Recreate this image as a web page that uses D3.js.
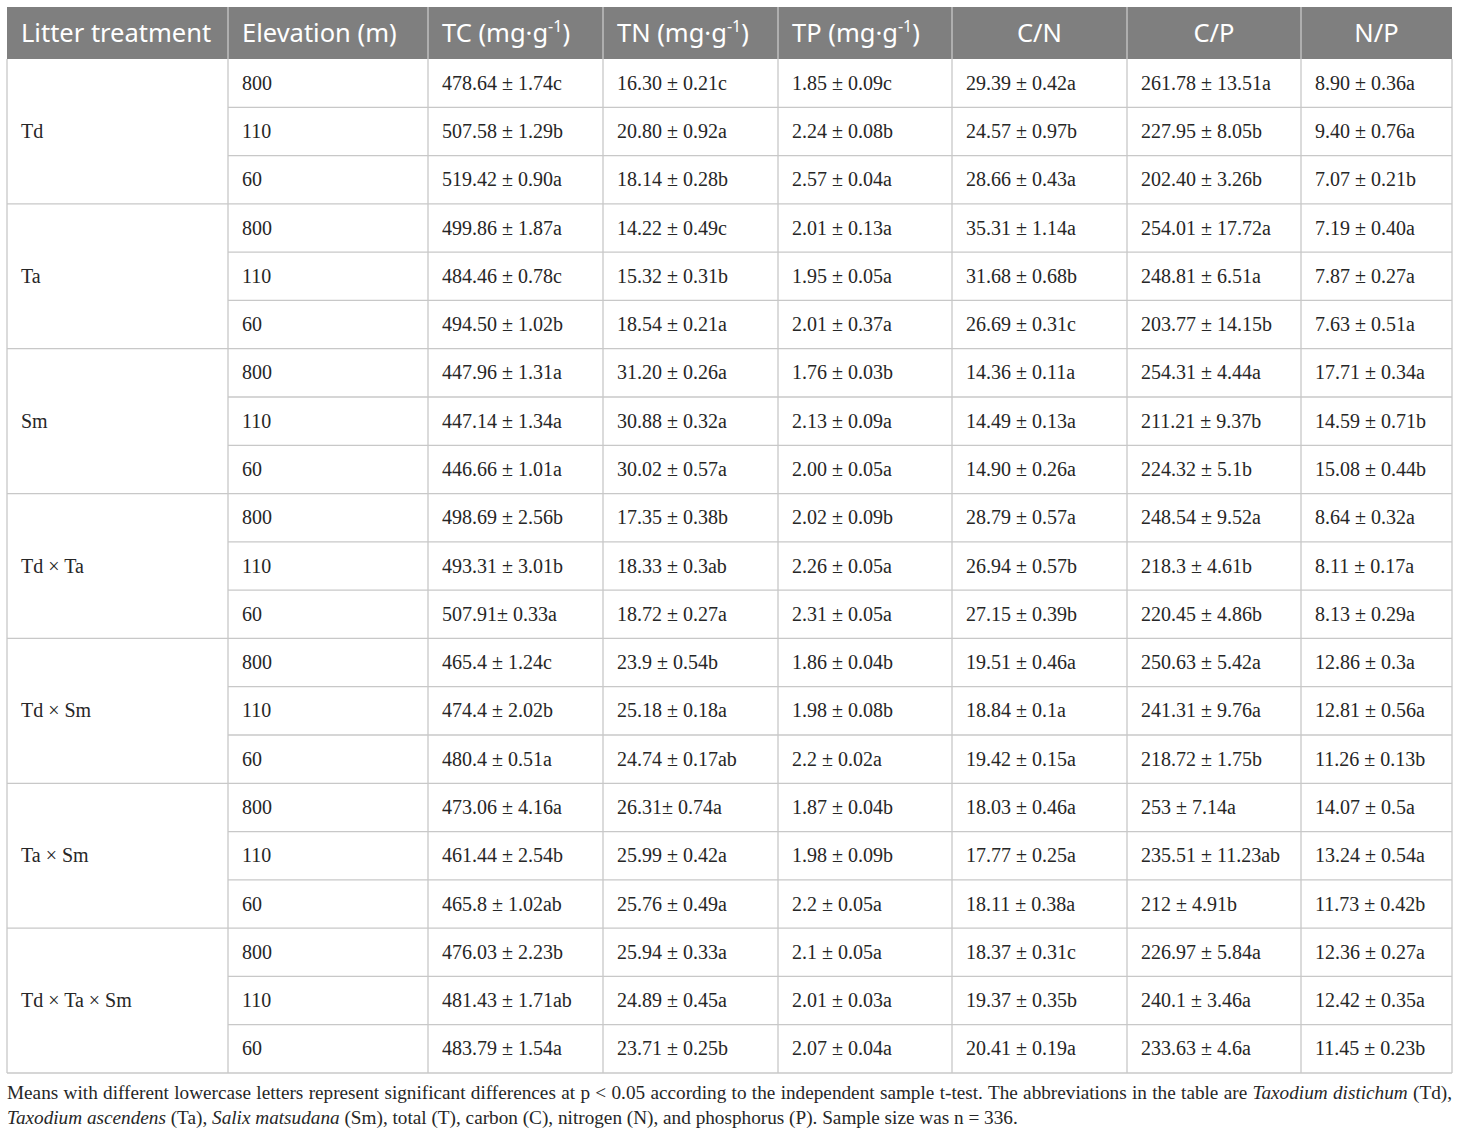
<html>
<head>
<meta charset="utf-8">
<script src="https://cdn.jsdelivr.net/npm/d3@7"></script>
<style>
  body { margin: 0; background: #fff; }
  svg text { font-kerning: normal; }
</style>
</head>
<body>
<svg id="tbl" width="1460" height="1135"></svg>
<script>
// ---- data ----
var treatments = ["Td", "Ta", "Sm", "Td × Ta", "Td × Sm", "Ta × Sm", "Td × Ta × Sm"];
var elevations = ["800", "110", "60"];

var headBase = ["Litter treatment", "Elevation (m)", "TC (mg·g", "TN (mg·g", "TP (mg·g", "C/N", "C/P", "N/P"];
var headSup  = ["", "", "-1", "-1", "-1", "", "", ""];
var headTail = ["", "", ")", ")", ")", "", "", ""];

var tc = ["478.64 ± 1.74c", "507.58 ± 1.29b", "519.42 ± 0.90a",
          "499.86 ± 1.87a", "484.46 ± 0.78c", "494.50 ± 1.02b",
          "447.96 ± 1.31a", "447.14 ± 1.34a", "446.66 ± 1.01a",
          "498.69 ± 2.56b", "493.31 ± 3.01b", "507.91± 0.33a",
          "465.4 ± 1.24c", "474.4 ± 2.02b", "480.4 ± 0.51a",
          "473.06 ± 4.16a", "461.44 ± 2.54b", "465.8 ± 1.02ab",
          "476.03 ± 2.23b", "481.43 ± 1.71ab", "483.79 ± 1.54a"];
var tn = ["16.30 ± 0.21c", "20.80 ± 0.92a", "18.14 ± 0.28b",
          "14.22 ± 0.49c", "15.32 ± 0.31b", "18.54 ± 0.21a",
          "31.20 ± 0.26a", "30.88 ± 0.32a", "30.02 ± 0.57a",
          "17.35 ± 0.38b", "18.33 ± 0.3ab", "18.72 ± 0.27a",
          "23.9 ± 0.54b", "25.18 ± 0.18a", "24.74 ± 0.17ab",
          "26.31± 0.74a", "25.99 ± 0.42a", "25.76 ± 0.49a",
          "25.94 ± 0.33a", "24.89 ± 0.45a", "23.71 ± 0.25b"];
var tp = ["1.85 ± 0.09c", "2.24 ± 0.08b", "2.57 ± 0.04a",
          "2.01 ± 0.13a", "1.95 ± 0.05a", "2.01 ± 0.37a",
          "1.76 ± 0.03b", "2.13 ± 0.09a", "2.00 ± 0.05a",
          "2.02 ± 0.09b", "2.26 ± 0.05a", "2.31 ± 0.05a",
          "1.86 ± 0.04b", "1.98 ± 0.08b", "2.2 ± 0.02a",
          "1.87 ± 0.04b", "1.98 ± 0.09b", "2.2 ± 0.05a",
          "2.1 ± 0.05a", "2.01 ± 0.03a", "2.07 ± 0.04a"];
var cn = ["29.39 ± 0.42a", "24.57 ± 0.97b", "28.66 ± 0.43a",
          "35.31 ± 1.14a", "31.68 ± 0.68b", "26.69 ± 0.31c",
          "14.36 ± 0.11a", "14.49 ± 0.13a", "14.90 ± 0.26a",
          "28.79 ± 0.57a", "26.94 ± 0.57b", "27.15 ± 0.39b",
          "19.51 ± 0.46a", "18.84 ± 0.1a", "19.42 ± 0.15a",
          "18.03 ± 0.46a", "17.77 ± 0.25a", "18.11 ± 0.38a",
          "18.37 ± 0.31c", "19.37 ± 0.35b", "20.41 ± 0.19a"];
var cp = ["261.78 ± 13.51a", "227.95 ± 8.05b", "202.40 ± 3.26b",
          "254.01 ± 17.72a", "248.81 ± 6.51a", "203.77 ± 14.15b",
          "254.31 ± 4.44a", "211.21 ± 9.37b", "224.32 ± 5.1b",
          "248.54 ± 9.52a", "218.3 ± 4.61b", "220.45 ± 4.86b",
          "250.63 ± 5.42a", "241.31 ± 9.76a", "218.72 ± 1.75b",
          "253 ± 7.14a", "235.51 ± 11.23ab", "212 ± 4.91b",
          "226.97 ± 5.84a", "240.1 ± 3.46a", "233.63 ± 4.6a"];
var np = ["8.90 ± 0.36a", "9.40 ± 0.76a", "7.07 ± 0.21b",
          "7.19 ± 0.40a", "7.87 ± 0.27a", "7.63 ± 0.51a",
          "17.71 ± 0.34a", "14.59 ± 0.71b", "15.08 ± 0.44b",
          "8.64 ± 0.32a", "8.11 ± 0.17a", "8.13 ± 0.29a",
          "12.86 ± 0.3a", "12.81 ± 0.56a", "11.26 ± 0.13b",
          "14.07 ± 0.5a", "13.24 ± 0.54a", "11.73 ± 0.42b",
          "12.36 ± 0.27a", "12.42 ± 0.35a", "11.45 ± 0.23b"];

var noteLine1 = [["Means with different lowercase letters represent significant differences at p < 0.05 according to the independent sample t-test. The abbreviations in the table are ", false],
                 ["Taxodium distichum", true], [" (Td),", false]];
var noteLine2 = [["Taxodium ascendens", true], [" (Ta), ", false], ["Salix matsudana", true],
                 [" (Sm), total (T), carbon (C), nitrogen (N), and phosphorus (P). Sample size was n = 336.", false]];

// ---- layout ----
var left = 7, right = 1452, headTop = 7, headBot = 59, bodyBot = 1073;
var colEdges = [7, 228, 428, 603, 778, 952, 1127, 1301, 1452];
var centered = [false, false, false, false, false, true, true, true];
var pad = 14;
var lineColor = "#c8c8c8", headFill = "#7f7f7f";
var serif = "'Liberation Serif', 'Times New Roman', serif";
var sans = "'Noto Sans', 'Open Sans', sans-serif";
var note2End = 1018;

var valueCols = [tc, tn, tp, cn, cp, np];
var nRows = treatments.length * elevations.length;

var y = d3.scaleBand().domain(d3.range(nRows)).range([headBot, bodyBot]);
var colX = d3.scaleOrdinal().domain(d3.range(colEdges.length)).range(colEdges);

var svg = d3.select("#tbl");

// header
svg.append("rect").attr("x", left).attr("y", headTop)
  .attr("width", right - left).attr("height", headBot - headTop).attr("fill", headFill);

var hText = svg.append("g").selectAll("text").data(headBase).enter().append("text")
  .attr("x", function (d, i) { return centered[i] ? (colX(i) + colX(i + 1)) / 2 : colX(i) + pad; })
  .attr("y", (headTop + headBot) / 2 + 9)
  .attr("text-anchor", function (d, i) { return centered[i] ? "middle" : "start"; })
  .attr("fill", "#fff")
  .style("font-family", sans).style("font-size", "25.5px");
hText.append("tspan").text(function (d) { return d; });
hText.append("tspan").attr("dy", -10).style("font-size", "16px")
  .text(function (d, i) { return headSup[i]; });
hText.append("tspan").attr("dy", 10)
  .text(function (d, i) { return headTail[i]; });

// body text
var body = svg.append("g").style("font-family", serif).style("font-size", "20px").attr("fill", "#262626");

body.selectAll("text.trt").data(treatments).enter().append("text").attr("class", "trt")
  .attr("x", colX(0) + pad)
  .attr("y", function (d, i) { return y(i * 3 + 1) + y.bandwidth() / 2 + 6.5; })
  .text(function (d) { return d; });

var rows = d3.range(nRows);
body.selectAll("text.elev").data(rows).enter().append("text").attr("class", "elev")
  .attr("x", colX(1) + pad)
  .attr("y", function (d) { return y(d) + y.bandwidth() / 2 + 6.5; })
  .text(function (d) { return elevations[d % 3]; });

valueCols.forEach(function (col, c) {
  body.selectAll("text.v" + c).data(col).enter().append("text").attr("class", "v" + c)
    .attr("x", colX(c + 2) + pad)
    .attr("y", function (d, i) { return y(i) + y.bandwidth() / 2 + 6.5; })
    .text(function (d) { return d; });
});

// grid lines
var grid = svg.append("g").attr("stroke", lineColor).attr("stroke-width", 1.3).attr("fill", "none");
grid.selectAll("line.v").data(colEdges).enter().append("line").attr("class", "v")
  .attr("x1", function (d) { return d; }).attr("x2", function (d) { return d; })
  .attr("y1", function (d, i) { return (i === 0 || i === colEdges.length - 1) ? headBot : headTop; })
  .attr("y2", bodyBot);
grid.selectAll("line.h").data(d3.range(1, nRows)).enter().append("line").attr("class", "h")
  .attr("x1", function (d) { return d % 3 === 0 ? left : colEdges[1]; }).attr("x2", right)
  .attr("y1", function (d) { return y(d); }).attr("y2", function (d) { return y(d); });
grid.append("line").attr("x1", left).attr("x2", right).attr("y1", bodyBot).attr("y2", bodyBot);

// footnote: size so the second line ends where it does in the source, then justify the first
var note = svg.append("g").style("font-family", serif).style("font-size", "16px").attr("fill", "#262626");
function noteLine(parts, yy) {
  var t = note.append("text").attr("x", left).attr("y", yy);
  t.selectAll("tspan").data(parts).enter().append("tspan")
    .style("font-style", function (d) { return d[1] ? "italic" : "normal"; })
    .text(function (d) { return d[0]; });
  return t;
}
var l2 = noteLine(noteLine2, 1124);
var fs = 16 * (note2End - left) / l2.node().getComputedTextLength();
note.style("font-size", fs + "px");
var l1 = noteLine(noteLine1, 1099);
var spaces = noteLine1.map(function (d) { return d[0]; }).join("").split(" ").length - 1;
var extra = (right - left) - l1.node().getComputedTextLength();
l1.attr("word-spacing", extra / spaces);
</script>
</body>
</html>
